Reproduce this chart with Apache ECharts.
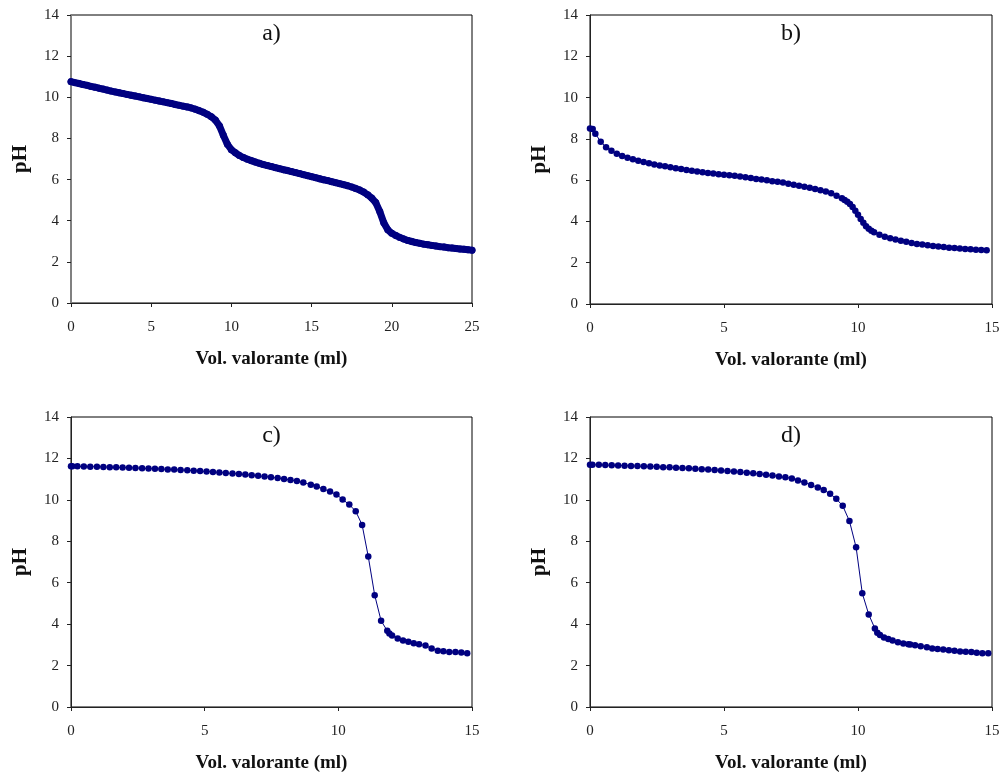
<!DOCTYPE html>
<html>
<head>
<meta charset="utf-8">
<script src="https://cdn.jsdelivr.net/npm/echarts@6/dist/echarts.min.js"></script>
<style>
  html, body { margin: 0; padding: 0; background: #fff; }
  #main { width: 1004px; height: 777px; }
</style>
</head>
<body>
<div id="main"></div>
<script>
// a) titration curve, two steps
var volA = [0,0.25,0.5,0.75,1,1.25,1.5,1.75,2,2.25,2.5,2.75,3,3.25,3.5,3.75,4,4.25,4.5,4.75,5,5.25,5.5,5.75,6,6.25,6.5,6.75,7,7.25,7.5,7.75,8,8.25,8.5,8.75,9,9.25,9.5,9.75,10,10.25,10.5,10.75,11,11.25,11.5,11.75,12,12.25,12.5,12.75,13,13.25,13.5,13.75,14,14.25,14.5,14.75,15,15.25,15.5,15.75,16,16.25,16.5,16.75,17,17.25,17.5,17.75,18,18.25,18.5,18.75,19,19.25,19.5,19.75,20,20.25,20.5,20.75,21,21.25,21.5,21.75,22,22.25,22.5,22.75,23,23.25,23.5,23.75,24,24.25,24.5,24.75,25];
var phA = [10.76,10.71,10.67,10.62,10.58,10.53,10.49,10.44,10.40,10.35,10.30,10.26,10.22,10.18,10.14,10.10,10.06,10.02,9.98,9.94,9.90,9.86,9.82,9.78,9.74,9.70,9.65,9.61,9.57,9.53,9.48,9.42,9.35,9.27,9.17,9.05,8.89,8.62,8.15,7.72,7.45,7.30,7.17,7.07,6.99,6.92,6.85,6.79,6.73,6.68,6.63,6.58,6.53,6.48,6.44,6.39,6.34,6.29,6.24,6.19,6.14,6.09,6.04,5.99,5.95,5.90,5.85,5.80,5.75,5.70,5.64,5.57,5.49,5.39,5.26,5.10,4.88,4.45,3.90,3.56,3.39,3.28,3.19,3.11,3.04,2.99,2.94,2.90,2.86,2.83,2.80,2.77,2.74,2.72,2.69,2.67,2.65,2.63,2.61,2.59,2.57];

// b)
var volB = [0,0.1,0.2,0.4,0.6,0.8,1,1.2,1.4,1.6,1.8,2,2.2,2.4,2.6,2.8,3,3.2,3.4,3.6,3.8,4,4.2,4.4,4.6,4.8,5,5.2,5.4,5.6,5.8,6,6.2,6.4,6.6,6.8,7,7.2,7.4,7.6,7.8,8,8.2,8.4,8.6,8.8,9,9.2,9.4,9.5,9.6,9.7,9.8,9.9,10,10.1,10.2,10.3,10.4,10.5,10.6,10.8,11,11.2,11.4,11.6,11.8,12,12.2,12.4,12.6,12.8,13,13.2,13.4,13.6,13.8,14,14.2,14.4,14.6,14.8];
var phB = [8.50,8.48,8.25,7.86,7.59,7.42,7.28,7.17,7.08,7.01,6.94,6.88,6.82,6.76,6.71,6.67,6.62,6.58,6.54,6.49,6.45,6.42,6.38,6.35,6.32,6.29,6.26,6.24,6.21,6.18,6.14,6.10,6.06,6.03,5.99,5.95,5.92,5.88,5.83,5.78,5.73,5.68,5.63,5.57,5.51,5.45,5.36,5.25,5.12,5.04,4.95,4.84,4.70,4.52,4.32,4.12,3.93,3.77,3.64,3.55,3.48,3.36,3.26,3.19,3.12,3.06,3.01,2.96,2.91,2.88,2.84,2.81,2.78,2.76,2.73,2.71,2.69,2.67,2.65,2.63,2.62,2.60];

// c)
var volC = [0,0.05,0.24,0.48,0.72,0.97,1.21,1.45,1.69,1.93,2.17,2.41,2.66,2.90,3.14,3.38,3.62,3.86,4.10,4.35,4.59,4.83,5.07,5.31,5.55,5.79,6.04,6.28,6.52,6.76,7.00,7.24,7.48,7.73,7.97,8.21,8.45,8.69,8.97,9.19,9.44,9.69,9.93,10.16,10.41,10.65,10.89,11.12,11.36,11.60,11.83,11.91,12.01,12.22,12.42,12.62,12.82,13.02,13.26,13.49,13.72,13.93,14.15,14.38,14.60,14.82];
var phC = [11.62,11.62,11.62,11.61,11.60,11.60,11.59,11.58,11.57,11.56,11.55,11.54,11.53,11.51,11.50,11.49,11.47,11.46,11.44,11.43,11.41,11.39,11.37,11.35,11.32,11.30,11.27,11.25,11.22,11.19,11.16,11.13,11.09,11.05,11.01,10.96,10.91,10.84,10.73,10.64,10.53,10.40,10.26,10.02,9.77,9.45,8.79,7.26,5.40,4.16,3.68,3.55,3.45,3.31,3.21,3.15,3.08,3.03,2.97,2.82,2.71,2.69,2.66,2.65,2.63,2.60];

// d)
var volD = [0,0.09,0.33,0.57,0.81,1.05,1.29,1.53,1.77,2.01,2.25,2.49,2.73,2.97,3.21,3.45,3.69,3.93,4.17,4.41,4.65,4.89,5.13,5.37,5.61,5.85,6.09,6.33,6.57,6.81,7.05,7.29,7.53,7.76,8.00,8.25,8.50,8.72,8.96,9.19,9.43,9.68,9.93,10.16,10.40,10.63,10.72,10.82,10.97,11.13,11.29,11.49,11.69,11.88,11.95,12.13,12.34,12.57,12.77,12.97,13.18,13.39,13.60,13.81,14.02,14.23,14.43,14.64,14.86];
var phD = [11.69,11.69,11.69,11.68,11.67,11.66,11.65,11.64,11.63,11.62,11.61,11.60,11.58,11.57,11.55,11.54,11.52,11.50,11.48,11.46,11.44,11.42,11.39,11.37,11.34,11.31,11.28,11.25,11.21,11.17,11.13,11.09,11.03,10.94,10.84,10.72,10.60,10.48,10.29,10.05,9.71,8.98,7.71,5.49,4.47,3.79,3.58,3.48,3.36,3.28,3.21,3.13,3.07,3.03,3.02,2.98,2.93,2.88,2.83,2.80,2.77,2.74,2.72,2.68,2.67,2.65,2.62,2.60,2.59];

var panelLabels = ['a)', 'b)', 'c)', 'd)'];
var xMax = [25, 15, 15, 15];
var yTicks = [0, 14, 2];
var xName = 'Vol. valorante (ml)';
var yName = 'pH';

function pairs(xs, ys) {
  var out = [];
  for (var i = 0; i < xs.length; i++) out.push([xs[i], ys[i]]);
  return out;
}

var serif = 'Liberation Serif';
var grids = [
  {left: 71, top: 15, width: 401, height: 288},
  {left: 590, top: 15, width: 402, height: 289},
  {left: 71, top: 417, width: 401, height: 290},
  {left: 590, top: 417, width: 402, height: 290}
];
var datasets = [pairs(volA, phA), pairs(volB, phB), pairs(volC, phC), pairs(volD, phD)];

var xAxes = [], yAxes = [], series = [], texts = [];
for (var i = 0; i < 4; i++) {
  grids[i].show = true;
  grids[i].borderColor = '#000';
  grids[i].borderWidth = 1;
  xAxes.push({
    gridIndex: i, type: 'value', min: 0, max: xMax[i], interval: 5,
    name: xName, nameLocation: 'middle', nameGap: 47,
    nameTextStyle: {fontFamily: serif, fontWeight: 'bold', fontSize: 19, color: '#111'},
    axisLine: {lineStyle: {color: '#222', width: 1}},
    axisTick: {show: true, inside: false, length: 4, lineStyle: {color: '#222'}},
    axisLabel: {fontFamily: serif, fontSize: 15, color: '#222', margin: 17},
    splitLine: {show: false}
  });
  yAxes.push({
    gridIndex: i, type: 'value', min: yTicks[0], max: yTicks[1], interval: yTicks[2],
    name: yName, nameLocation: 'middle', nameGap: 40,
    nameTextStyle: {fontFamily: serif, fontWeight: 'bold', fontSize: 21, color: '#111'},
    axisLine: {lineStyle: {color: i === 0 ? '#808080' : '#222', width: i === 0 ? 2 : 1}},
    axisTick: {show: true, inside: false, length: 4, lineStyle: {color: '#222'}},
    axisLabel: {fontFamily: serif, fontSize: 15, color: '#222', margin: 12},
    splitLine: {show: false}
  });
  series.push({
    type: 'line', xAxisIndex: i, yAxisIndex: i,
    data: datasets[i],
    symbol: 'circle', symbolSize: i === 0 ? 7 : 6.5, showAllSymbol: true,
    itemStyle: {color: '#000080'},
    lineStyle: {color: '#000080', width: i === 0 ? 7 : 1, cap: 'round', join: 'round'},
    emphasis: {disabled: true}
  });
  texts.push({
    type: 'text',
    x: grids[i].left + grids[i].width / 2,
    y: grids[i].top + 19,
    style: {text: panelLabels[i], fontFamily: serif, fontSize: 24, fill: '#111', align: 'center', verticalAlign: 'middle'}
  });
}

var myChart = echarts.init(document.getElementById('main'));
var option = {
  animation: false,
  backgroundColor: '#fff',
  grid: grids,
  xAxis: xAxes,
  yAxis: yAxes,
  series: series,
  graphic: texts
};
myChart.setOption(option);
</script>
</body>
</html>
